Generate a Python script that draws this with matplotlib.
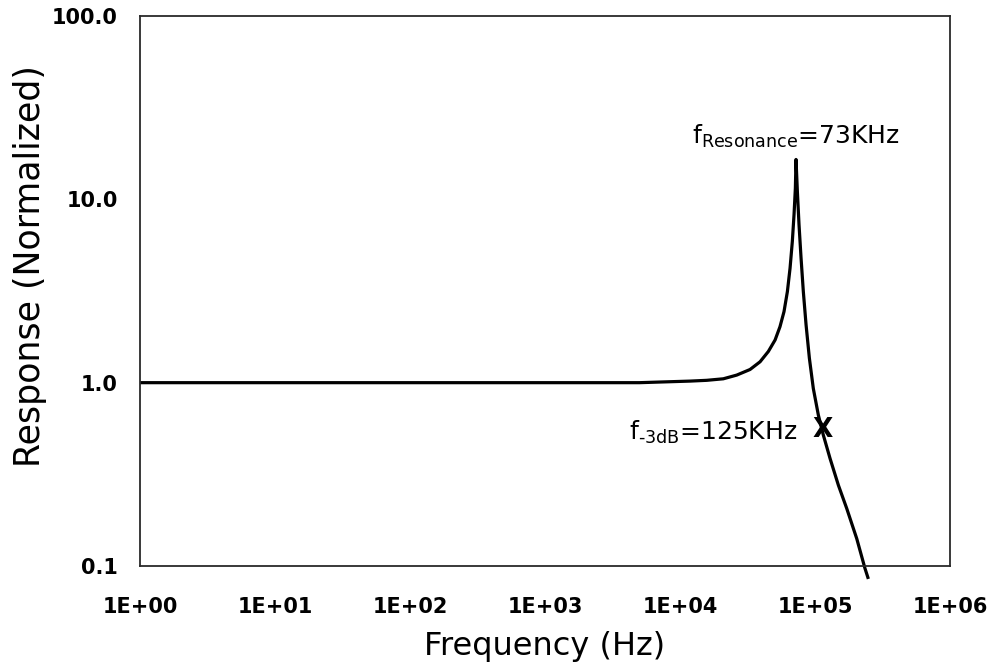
import matplotlib
matplotlib.use("Agg")
import matplotlib.pyplot as plt
from matplotlib.ticker import FixedLocator, FixedFormatter

# values (frequency in Hz, normalized response)
freq = [1, 10, 100, 1000, 5000, 11860, 15770, 20930, 26300, 33000, 39150,
        45100, 50600, 55000, 58900, 62400, 65300, 67900, 69900, 71500, 72300,
        74000, 76100, 78800, 81900, 85800, 90800, 97100, 105800, 115200,
        129200, 148900, 171700, 203700, 234400, 248300]
response = [1.0, 1.0, 1.0, 1.0, 1.0, 1.02, 1.03, 1.05, 1.10, 1.18, 1.30,
            1.48, 1.71, 2.02, 2.44, 3.14, 4.21, 5.9, 8.27, 11.5, 16.5,
            11.0, 7.27, 4.77, 3.14, 2.07, 1.36, 0.93, 0.666, 0.518,
            0.386, 0.276, 0.206, 0.141, 0.097, 0.085]

x_ticks = [1, 10, 100, 1000, 10000, 100000, 1000000]
x_labels = ["1E+00", "1E+01", "1E+02", "1E+03", "1E+04", "1E+05", "1E+06"]
y_ticks = [0.1, 1, 10, 100]
y_labels = ["0.1", "1.0", "10.0", "100.0"]

f_3db = 114600
r_3db = 0.555

plt.rcParams['font.family'] = ['DejaVu Sans']
plt.rcParams['mathtext.fontset'] = 'dejavusans'

fig = plt.figure(figsize=(9.89, 6.68), dpi=100)
ax = fig.add_axes([0.1416, 0.1527, 0.8190, 0.8233])

ax.plot(freq, response, color='black', linewidth=2.3, clip_on=False,
        solid_joinstyle='round', solid_capstyle='butt')
ax.set_xscale('log')
ax.set_yscale('log')
ax.set_xlim(1, 1e6)
ax.set_ylim(0.1, 100)

ax.xaxis.set_major_locator(FixedLocator(x_ticks))
ax.xaxis.set_major_formatter(FixedFormatter(x_labels))
ax.xaxis.set_minor_locator(FixedLocator([]))
ax.yaxis.set_major_locator(FixedLocator(y_ticks))
ax.yaxis.set_major_formatter(FixedFormatter(y_labels))
ax.yaxis.set_minor_locator(FixedLocator([]))
ax.tick_params(axis='both', length=0, labelsize=15)
ax.tick_params(axis='x', pad=22)
ax.tick_params(axis='y', pad=16)
for lab in ax.get_xticklabels() + ax.get_yticklabels():
    lab.set_fontweight('bold')

for sp in ax.spines.values():
    sp.set_linewidth(1.3)
    sp.set_color('#2a2a2a')

ax.set_xlabel("Frequency (Hz)", fontsize=23, va='center')
ax.xaxis.set_label_coords(0.5, -0.147)
ax.set_ylabel("Response (Normalized)", fontsize=25, va='center')
ax.yaxis.set_label_coords(-0.136, 0.545)

# annotations
ax.text(f_3db, r_3db, "X", fontsize=19, fontweight='bold',
        ha='center', va='center')
ax.text(0.811, 0.229, "f$_{\\mathregular{\u20103dB}}$=125KHz", fontsize=18,
        ha='right', va='baseline', transform=ax.transAxes)
ax.text(0.681, 0.767, r"f$_{\mathregular{Resonance}}$=73KHz", fontsize=18,
        ha='left', va='baseline', transform=ax.transAxes)

fig.savefig("out.png", dpi=100)
